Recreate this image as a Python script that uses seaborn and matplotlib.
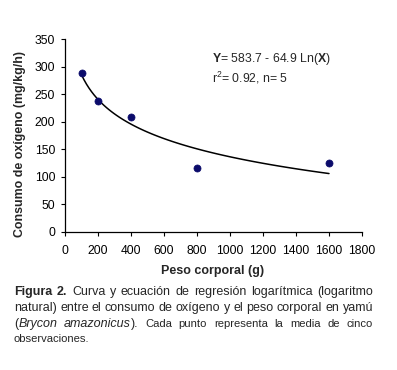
import matplotlib
matplotlib.use("Agg")
import matplotlib.pyplot as plt
import seaborn as sns
import pandas as pd
import numpy as np

# Data
peso = [100, 200, 400, 800, 1600]
consumo = [289, 238, 209, 116, 126]
x_ticks = [0, 200, 400, 600, 800, 1000, 1200, 1400, 1600, 1800]
y_ticks = [0, 50, 100, 150, 200, 250, 300, 350]
eq_text = r"$\mathbf{Y}$= 583.7 - 64.9 Ln($\mathbf{X}$)"
r2_text = "r$^{2}$= 0.92, n= 5"
x_label = "Peso corporal (g)"
y_label = "Consumo de oxígeno (mg/kg/h)"

sns.set_style("ticks")
plt.rcParams['font.family'] = ['Liberation Sans', 'DejaVu Sans']
plt.rcParams['mathtext.fontset'] = 'custom'
plt.rcParams['mathtext.rm'] = 'Liberation Sans'
plt.rcParams['mathtext.bf'] = 'Liberation Sans:bold'

df = pd.DataFrame({"peso": peso, "consumo": consumo})

W, H = 397, 370
fig = plt.figure(figsize=(W / 100, H / 100), dpi=100)
ax = fig.add_axes([65 / W, 1 - 232 / H, (362 - 65) / W, (232 - 39) / H])

sns.regplot(data=df, x="peso", y="consumo", logx=True, ci=None, scatter=False,
            line_kws=dict(color="black", lw=1.1), ax=ax)
sns.scatterplot(data=df, x="peso", y="consumo", color="#0b0b6b", s=26,
                edgecolor="#0b0b6b", linewidth=0.5, ax=ax, zorder=3)

ax.set_xlim(0, 1800)
ax.set_ylim(0, 350)
ax.set_xticks(x_ticks)
ax.set_yticks(y_ticks)
ax.tick_params(axis="both", labelsize=8.7, length=3, width=0.8, colors="black")
ax.tick_params(axis="x", pad=6)
ax.tick_params(axis="y", pad=4)
for s in ["top", "right"]:
    ax.spines[s].set_visible(False)
for s in ["left", "bottom"]:
    ax.spines[s].set_linewidth(0.9)
    ax.spines[s].set_color("black")
ax.set_xlabel("")
ax.set_ylabel("")

fig.text(213 / W, 1 - 271 / H, x_label, ha="center", va="center", fontsize=9, fontweight="bold")
fig.text(20 / W, 1 - 144 / H, y_label, ha="center", va="center", fontsize=8.9, fontweight="bold", rotation=90)

fig.text(212 / W, 1 - 59 / H, eq_text, ha="left", va="center", fontsize=8.8)
fig.text(212 / W, 1 - 78 / H, r2_text, ha="left", va="center", fontsize=8.8)

# Caption with justified lines
fig.canvas.draw()
renderer = fig.canvas.get_renderer()

BIG = 9.0
SMALL = 8.1
X0, X1 = 14, 373

def wid(t):
    return t.get_window_extent(renderer).width

def justify(groups, y_px, full=True):
    gw = [sum(wid(t) for t in g) for g in groups]
    if full and len(groups) > 1:
        gap = (X1 - X0 - sum(gw)) / (len(groups) - 1)
    else:
        gap = 3.0
    x = X0
    for g, w in zip(groups, gw):
        xx = x
        for t in g:
            t.set_x(xx / W)
            t.set_y(1 - y_px / H)
            xx += wid(t)
        x += w + gap

def mk(s, **kw):
    return fig.text(0, 0, s, ha="left", va="center", **kw)

# line 1
g1 = [[mk("Figura", fontsize=BIG, fontweight="bold")], [mk("2.", fontsize=BIG, fontweight="bold")]] + \
     [[mk(w, fontsize=BIG)] for w in "Curva y ecuación de regresión logarítmica (logaritmo".split()]
justify(g1, 292)

# line 2
g2 = [[mk(w, fontsize=BIG)] for w in "natural) entre el consumo de oxígeno y el peso corporal en yamú".split()]
justify(g2, 308)

# line 3
g3 = [[mk("(", fontsize=BIG), mk("Brycon", fontsize=BIG, style="italic")],
      [mk("amazonicus", fontsize=BIG, style="italic"), mk(").", fontsize=BIG)]] + \
     [[mk(w, fontsize=SMALL)] for w in "Cada punto representa la media de cinco".split()]
justify(g3, 324)

# line 4
g4 = [[mk("observaciones.", fontsize=SMALL)]]
justify(g4, 339, full=False)

fig.savefig("out.png", dpi=100)
